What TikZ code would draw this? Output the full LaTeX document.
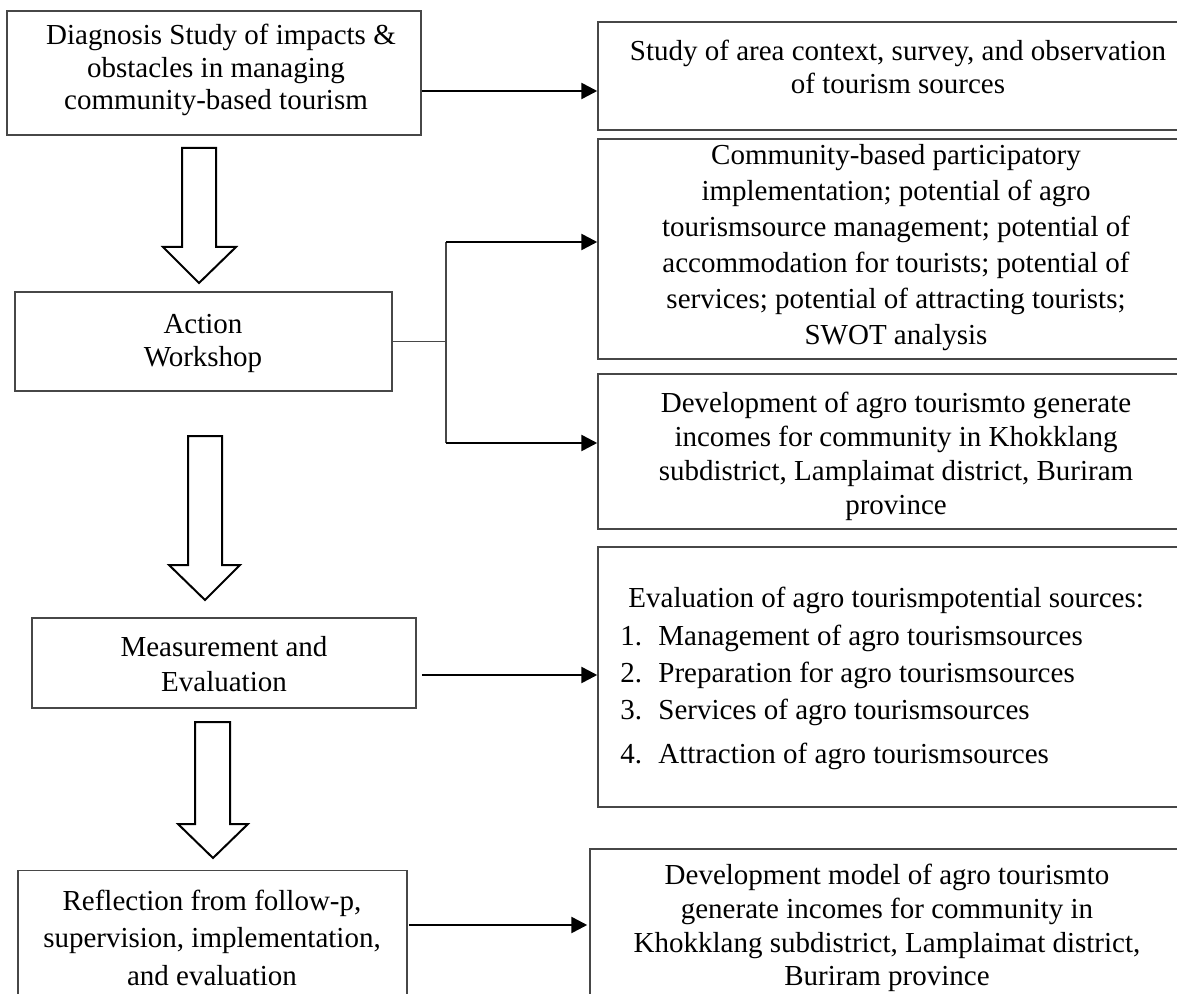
\documentclass[tikz,border=0pt]{standalone}
\usepackage{fontspec}
\setmainfont{Liberation Serif}
\usetikzlibrary{arrows.meta}
\begin{document}
\begin{tikzpicture}[x=0.5pt,y=-0.5pt,
  box/.style={draw=black!72, line width=0.75pt, inner sep=0pt},
  txt/.style={align=center, inner sep=0pt, font=\fontsize{14.5pt}{#1}\selectfont},
  txt/.default=17pt,
  arr/.style={-{Triangle[length=8pt,width=8pt]}, line width=1.3pt, draw=black},
  thinline/.style={draw=black!72, line width=0.8pt},
  hollow/.style={draw=black, line width=1pt, line join=miter, fill=white}]
\useasboundingbox (0,0) rectangle (1177,994);
\clip (0,0) rectangle (1177,994);

% left column boxes
\node[box, minimum width=207pt, minimum height=62pt] (d1) at (214,73) {};
\node[box, minimum width=188.5pt, minimum height=49.5pt] (a) at (203.5,341.5) {};
\node[box, minimum width=192pt, minimum height=45pt] (m) at (224,663) {};
\node[box, minimum width=194.5pt, minimum height=69.5pt] (r) at (212.5,940) {};

% right column boxes (cut by the picture's right and bottom edges)
\node[box, minimum width=300pt, minimum height=54pt] (A) at (898,76) {};
\node[box, minimum width=300pt, minimum height=110pt] (B) at (898,249) {};
\node[box, minimum width=300pt, minimum height=77.5pt] (C) at (898,451.5) {};
\node[box, minimum width=300pt, minimum height=130pt] (D) at (898,677) {};
\node[box, minimum width=297.5pt, minimum height=80.5pt] (E) at (887.5,929.5) {};

% texts
\node[txt=16.25pt] (t1) at (216,70) {\hspace*{5pt}Diagnosis Study of impacts \&\\obstacles in managing\\community-based tourism};
\node[txt=16.5pt] (ta) at (203,343.5) {Action\\Workshop};
\node[txt=17.5pt] (tm) at (224,664.5) {Measurement and\\Evaluation};
\node[txt=18.75pt] (tr) at (212,937.5) {Reflection from follow-p,\\supervision, implementation,\\and evaluation};

\node[txt=16.5pt] (tA) at (898,66.5) {Study of area context, survey, and observation\\of tourism sources};
\node[txt=18pt] (tB) at (896,248) {Community-based participatory\\implementation; potential of agro\\tourismsource management; potential of\\accommodation for tourists; potential of\\services; potential of attracting tourists;\\SWOT analysis};
\node[txt=17pt] (tC) at (896,456) {Development of agro tourismto generate\\incomes for community in Khokklang\\subdistrict, Lamplaimat district, Buriram\\province};
\node[inner sep=0pt, anchor=west, align=left, font=\fontsize{14.5pt}{18.7pt}\selectfont] (tD) at (620,678.5)
  {\hspace*{4pt}Evaluation of agro tourismpotential sources:\\
   \makebox[19pt][l]{1.}Management of agro tourismsources\\
   \makebox[19pt][l]{2.}Preparation for agro tourismsources\\
   \makebox[19pt][l]{3.}Services of agro tourismsources\\[3pt]
   \makebox[19pt][l]{4.}Attraction of agro tourismsources};
\node[txt=16.9pt] (tE) at (887,928) {Development model of agro tourismto\\generate incomes for community in\\Khokklang subdistrict, Lamplaimat district,\\Buriram province};

% hollow block arrows
\draw[hollow] (182,148) -- (216,148) -- (216,247) -- (236,247) -- (199,283) -- (163,247) -- (182,247) -- cycle;
\draw[hollow] (188,436) -- (222,436) -- (222,565) -- (240,565) -- (205,600) -- (169,565) -- (188,565) -- cycle;
\draw[hollow] (195,722) -- (230,722) -- (230,824) -- (248,824) -- (213,858) -- (178,824) -- (195,824) -- cycle;

% connectors
\draw[arr] ([yshift=-9pt]d1.east) coordinate (s1) -- (s1 -| A.west);

\coordinate (bt) at (446,242);
\coordinate (bb) at (446,443);
\draw[thinline] (a.east) -- (a.east -| bt);
\draw[thinline] (bt) -- (bb);
\draw[arr] (bt) -- (bt -| B.west);
\draw[arr] (bb) -- (bb -| C.west);

\draw[arr] ([xshift=2.5pt,yshift=-6pt]m.east) coordinate (s3) -- (s3 -| D.west);
\draw[arr] ([xshift=0.5pt,yshift=7.5pt]r.east) coordinate (s4) -- ([xshift=-1pt]s4 -| E.west);
\end{tikzpicture}
\end{document}
